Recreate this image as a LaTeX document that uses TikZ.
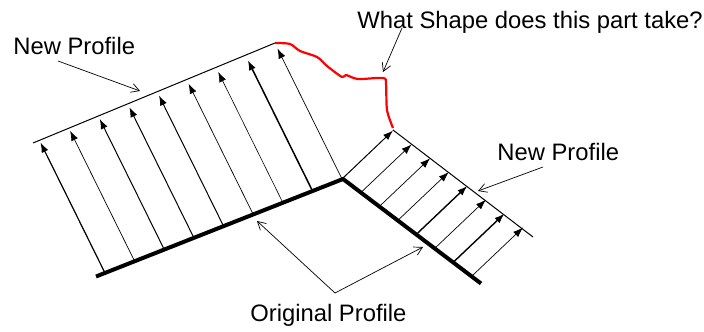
\documentclass[tikz,border=0pt]{standalone}
\usepackage{fontspec}
\setmainfont{Liberation Sans}
\usetikzlibrary{arrows.meta}
\begin{document}
\begin{tikzpicture}[x=0.5pt,y=-0.5pt,
  lbl/.style={inner sep=0pt,anchor=base west,font=\fontsize{11.9}{14}\selectfont},
  vec/.style={-{Latex[length=5pt,width=3.6pt]},line width=#1},
  vec/.default=0.45pt,
  call/.style={-{Straight Barb[length=4pt,width=4.5pt]},line width=0.35pt},
  orig/.style={line width=2pt},
  newp/.style={line width=0.5pt}]
\useasboundingbox (0,0) rectangle (704,331);
% original profiles
\coordinate (A) at (96,276.5);
\coordinate (K) at (343,179);
\coordinate (B) at (481,283.5);
\draw[orig] (A) -- (K) -- (B);
% new profile lines
\coordinate (L1) at (33,143);
\coordinate (L2) at (275,43);
\coordinate (R1) at (393,130);
\coordinate (R2) at (533,237);
\draw[newp] (L1) -- (L2);
\draw[newp] (R1) -- (R2);
% left arrows
\foreach \i/\w in {0/0.6pt,1/0.35pt,2/0.5pt,3/0.5pt,4/0.5pt,5/0.35pt,6/0.3pt,7/0.75pt,8/0.35pt}{
  \coordinate (lb\i) at ({105+29.625*\i},{273-11.75*\i});
  \coordinate (lt\i) at ({105+29.625*\i-64.5},{273-11.75*\i-130.5});
  \draw[vec=\w] (lb\i) -- (lt\i);
}
% right arrows
\foreach \i/\w in {0/0.5pt,1/0.35pt,2/0.35pt,3/0.35pt,4/0.7pt,5/0.35pt,6/0.7pt,7/0.35pt}{
  \coordinate (rb\i) at ({343+18.57*\i},{178+13.86*\i});
  \coordinate (rt\i) at ({343+18.57*\i+50},{178+13.86*\i-47.5});
  \draw[vec=\w] (rb\i) -- (rt\i);
}
% red unknown shape
\draw[red,line width=1.1pt,line join=round] plot[smooth,tension=0.5] coordinates
  {(275,43) (290,44) (300,51) (317,57) (327,66) (342,77) (346,75) (358,79) (383,78) (386,84) (387,110) (393,128)};
% labels
\node[lbl] (np1) at (13,55) {New Profile};
\node[lbl] (q) at (357,29) {What Shape does this part take?};
\node[lbl] (np2) at (497,160) {New Profile};
\node[lbl] (op) at (250,321) {Original Profile};
% callouts
\coordinate (c1) at (58,61);
\coordinate (c1e) at (140,91);
\draw[call] (c1) -- (c1e);
\coordinate (c2) at (402,28);
\coordinate (c2e) at (383,72);
\draw[call] (c2) -- (c2e);
\coordinate (c3) at (543,167);
\coordinate (c3e) at (478,191);
\draw[call] (c3) -- (c3e);
\coordinate (c4) at (335,293);
\coordinate (c4a) at (257,221);
\coordinate (c4b) at (423,247);
\draw[call] (c4) -- (c4a);
\draw[call] (c4) -- (c4b);
\end{tikzpicture}
\end{document}
